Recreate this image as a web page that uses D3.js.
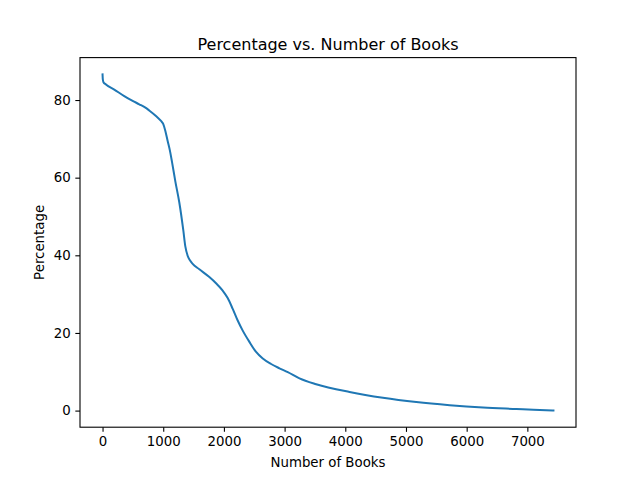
<!DOCTYPE html>
<html><head><meta charset="utf-8">
<script src="https://cdn.jsdelivr.net/npm/d3@7"></script>
<style>body{margin:0;background:#fff}svg{display:block;font-family:"DejaVu Sans",sans-serif}</style>
</head><body>
<svg id="c" width="640" height="480"></svg>
<script>
const books = [0, 4, 15, 56, 193, 358, 495, 605, 700, 770, 880, 963, 1001, 1034, 1072, 1111, 1145, 1200, 1265, 1331, 1364, 1402, 1440, 1485, 1595, 1760, 1870, 1980, 2062, 2145, 2227, 2310, 2420, 2530, 2640, 2777, 2915, 3052, 3245, 3520, 4070, 4620, 5170, 5720, 6270, 6820, 7100, 7430];
const percentage = [86.6, 85.4, 84.6, 84.0, 82.7, 81.0, 79.8, 78.9, 78.1, 77.3, 75.9, 74.6, 73.8, 72.1, 69.5, 66.9, 64.0, 59.0, 53.6, 46.4, 42.3, 39.9, 38.7, 37.8, 36.4, 34.4, 32.8, 30.9, 29.0, 26.2, 23.2, 20.6, 17.7, 15.1, 13.4, 12.0, 10.9, 9.9, 8.3, 6.8, 4.8, 3.3, 2.2, 1.4, 0.8, 0.4, 0.2, 0.05];
const xTicks = [0, 1000, 2000, 3000, 4000, 5000, 6000, 7000];
const yTicks = [0, 20, 40, 60, 80];
const title = "Percentage vs. Number of Books";
const xLabel = "Number of Books";
const yLabel = "Percentage";

const svg = d3.select("#c");
const L = 80, R = 576, T = 57.6, B = 427.2;
const xmin = d3.min(books), xmax = d3.max(books);
const ymin = d3.min(percentage), ymax = d3.max(percentage);
const xm = (xmax - xmin) * 0.05, ym = (ymax - ymin) * 0.05;
const x = d3.scaleLinear().domain([xmin - xm, xmax + xm]).range([L, R]);
const y = d3.scaleLinear().domain([ymin - ym, ymax + ym]).range([B, T]);

const pts = books.map((b, i) => [b, percentage[i]]);
svg.append("path").datum(pts)
  .attr("fill", "none").attr("stroke", "#1f77b4").attr("stroke-width", 2)
  .attr("stroke-linejoin", "round").attr("stroke-linecap", "square")
  .attr("d", d3.line().x(d => x(d[0])).y(d => y(d[1])).curve(d3.curveMonotoneX));

const xa = svg.append("g").attr("transform", `translate(0,${B})`)
  .call(d3.axisBottom(x).tickValues(xTicks).tickFormat(d3.format("d")).tickSizeOuter(0).tickSize(4.67).tickPadding(4.67));
const ya = svg.append("g").attr("transform", `translate(${L},0)`)
  .call(d3.axisLeft(y).tickValues(yTicks).tickFormat(d3.format("d")).tickSizeOuter(0).tickSize(4.67).tickPadding(4.67));
[xa, ya].forEach(g => {
  g.select(".domain").remove();
  g.selectAll("line").attr("stroke", "#000").attr("stroke-width", 1.1);
  g.selectAll("text").attr("font-family", "DejaVu Sans").attr("font-size", "13.33px").attr("fill", "#000");
});
svg.append("rect").attr("x", L).attr("y", T).attr("width", R - L).attr("height", B - T)
  .attr("fill", "none").attr("stroke", "#000").attr("stroke-width", 1.1);

svg.append("text").attr("x", (L + R) / 2).attr("y", 49.5).attr("text-anchor", "middle")
  .attr("font-size", "16px").attr("fill", "#000").text(title);
svg.append("text").attr("x", (L + R) / 2).attr("y", 467).attr("text-anchor", "middle")
  .attr("font-size", "13.33px").attr("fill", "#000").text(xLabel);
svg.append("text").attr("transform", `translate(44,${(T + B) / 2}) rotate(-90)`).attr("text-anchor", "middle")
  .attr("font-size", "13.33px").attr("fill", "#000").text(yLabel);
</script>
</body></html>
